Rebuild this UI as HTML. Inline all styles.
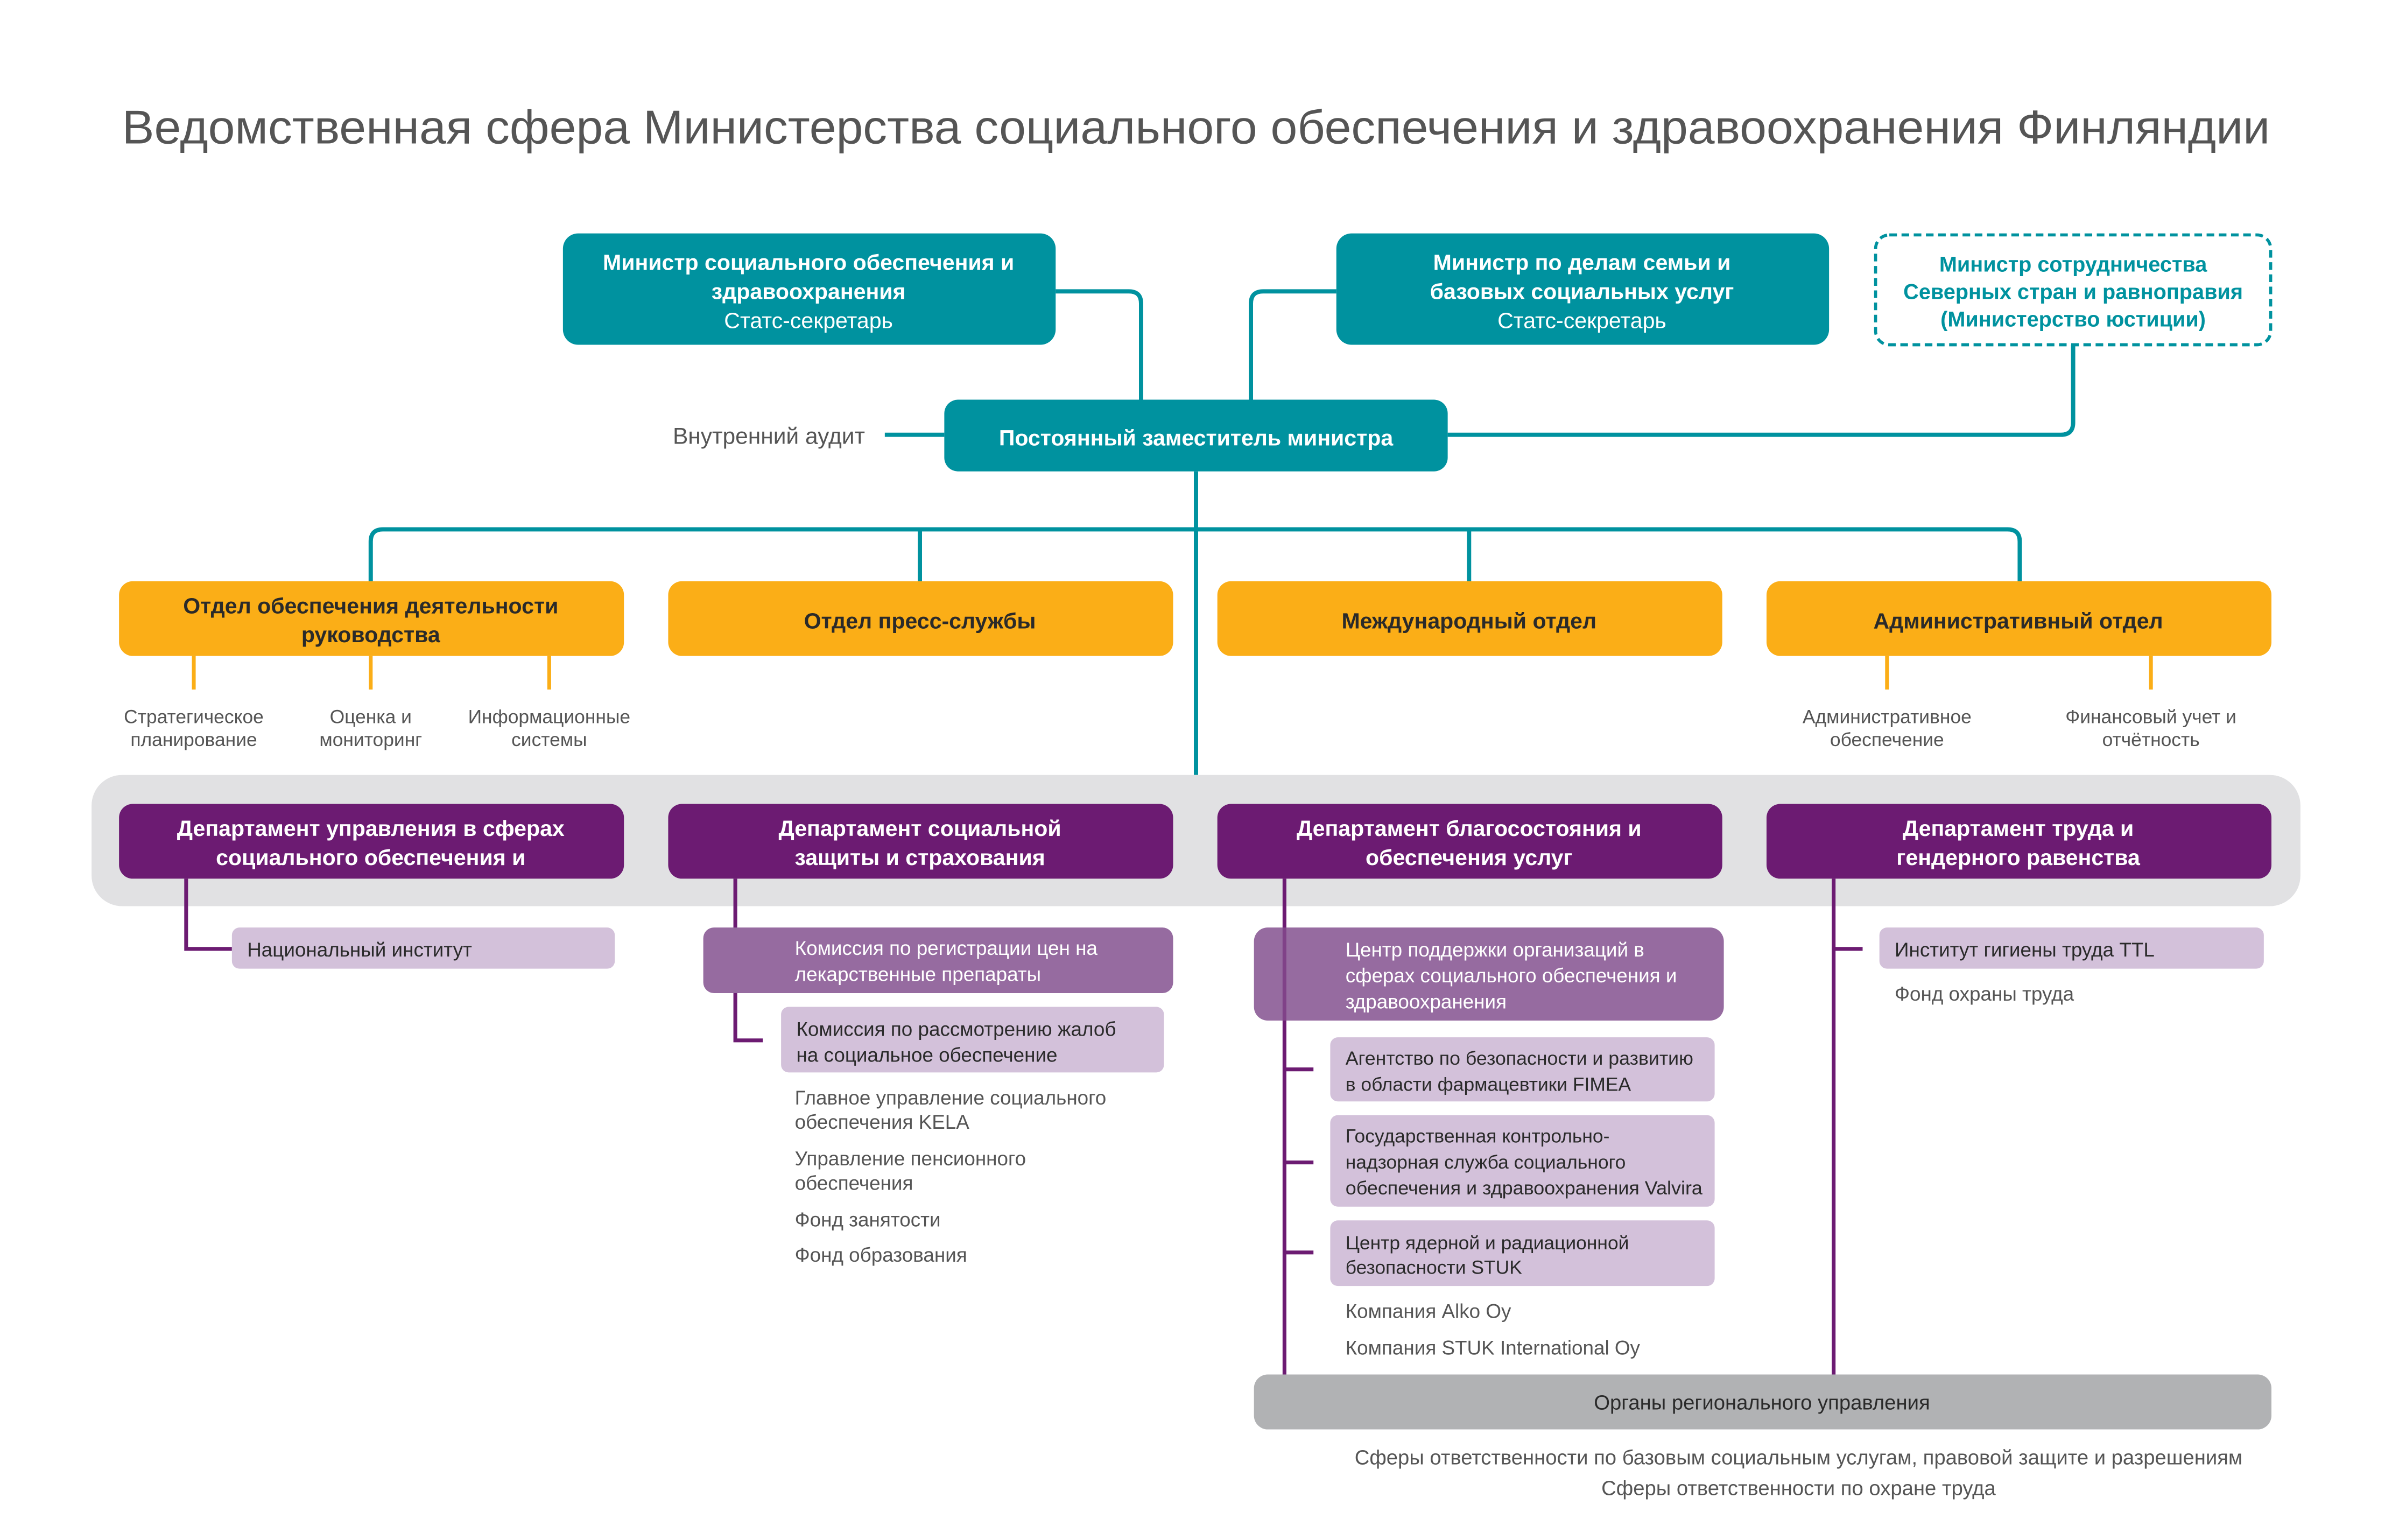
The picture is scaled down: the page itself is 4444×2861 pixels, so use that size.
<!DOCTYPE html>
<html><head><meta charset="utf-8"><style>
html,body{margin:0;padding:0;background:#fff}
svg{display:block}
text{font-family:"Liberation Sans",sans-serif}
.b{font-weight:bold}
.w{fill:#fff}
.g{fill:#555}
.d{fill:#2a2a2a}
</style></head><body>
<svg width="4444" height="2861" viewBox="0 0 1568 1009.5" xmlns="http://www.w3.org/2000/svg">
<rect width="1568" height="1010" fill="#fff"/>
<text x="784" y="94" text-anchor="middle" font-size="31" class="g" textLength="1408" lengthAdjust="spacingAndGlyphs">Ведомственная сфера Министерства социального обеспечения и здравоохранения Финляндии</text>

<!-- teal connectors -->
<g fill="none" stroke="#00929f" stroke-width="2.8">
<path d="M692 191 H740 Q748 191 748 199 V262"/>
<path d="M876 191 H828 Q820 191 820 199 V262"/>
<path d="M1359 226 V277 Q1359 285 1351 285 H949"/>
<path d="M580 285 H619"/>
<path d="M784 309 V508"/>
<path d="M243 381 V355 Q243 347 251 347 H1316 Q1324 347 1324 355 V381"/>
<path d="M603 347 V381 M963 347 V381"/>
</g>

<!-- teal boxes -->
<rect x="369" y="153" width="323" height="73" rx="10" fill="#00929f"/>
<text x="530" y="177" text-anchor="middle" font-size="14.5" class="b w">Министр социального обеспечения и</text>
<text x="530" y="196" text-anchor="middle" font-size="14.5" class="b w">здравоохранения</text>
<text x="530" y="215" text-anchor="middle" font-size="14.5" class="w">Статс-секретарь</text>

<rect x="876" y="153" width="323" height="73" rx="10" fill="#00929f"/>
<text x="1037" y="177" text-anchor="middle" font-size="14.5" class="b w">Министр по делам семьи и</text>
<text x="1037" y="196" text-anchor="middle" font-size="14.5" class="b w">базовых социальных услуг</text>
<text x="1037" y="215" text-anchor="middle" font-size="14.5" class="w">Статс-секретарь</text>

<rect x="1229.5" y="154" width="259" height="72" rx="9" fill="#fff" stroke="#00929f" stroke-width="2" stroke-dasharray="5 3"/>
<g font-size="14" class="b" fill="#00929f" text-anchor="middle">
<text x="1359" y="178">Министр сотрудничества</text>
<text x="1359" y="196">Северных стран и равноправия</text>
<text x="1359" y="214">(Министерство юстиции)</text>
</g>

<rect x="619" y="262" width="330" height="47" rx="9" fill="#00929f"/>
<text x="784" y="292" text-anchor="middle" font-size="14.5" class="b w">Постоянный заместитель министра</text>
<text x="567" y="291" text-anchor="end" font-size="15" class="g">Внутренний аудит</text>

<!-- orange -->
<g stroke="#fbae17" stroke-width="2.5">
<path d="M127 430 V452 M243 430 V452 M360 430 V452 M1237 430 V452 M1410 430 V452"/>
</g>
<g fill="#fbae17">
<rect x="78" y="381" width="331" height="49" rx="9"/>
<rect x="438" y="381" width="331" height="49" rx="9"/>
<rect x="798" y="381" width="331" height="49" rx="9"/>
<rect x="1158" y="381" width="331" height="49" rx="9"/>
</g>
<g font-size="14.5" class="b d" text-anchor="middle">
<text x="243" y="402">Отдел обеспечения деятельности</text>
<text x="243" y="421">руководства</text>
<text x="603" y="412">Отдел пресс-службы</text>
<text x="963" y="412">Международный отдел</text>
<text x="1323" y="412">Административный отдел</text>
</g>
<g font-size="12.5" class="g" text-anchor="middle">
<text x="127" y="474">Стратегическое</text><text x="127" y="489">планирование</text>
<text x="243" y="474">Оценка и</text><text x="243" y="489">мониторинг</text>
<text x="360" y="474">Информационные</text><text x="360" y="489">системы</text>
<text x="1237" y="474">Административное</text><text x="1237" y="489">обеспечение</text>
<text x="1410" y="474">Финансовый учет и</text><text x="1410" y="489">отчётность</text>
</g>

<!-- gray band -->
<rect x="60" y="508" width="1448" height="86" rx="20" fill="#e1e1e3"/>

<!-- purple lines -->
<g fill="none" stroke="#6c1b72" stroke-width="2.5">
<path d="M122 576 V622 H152"/>
<path d="M482 576 V682 H500"/>
<path d="M842 576 V901"/>
<path d="M842 701 H861 M842 762 H861 M842 821 H861"/>
<path d="M1202 576 V901 M1202 622 H1221"/>
</g>

<g fill="#6c1b72">
<rect x="78" y="527" width="331" height="49" rx="9"/>
<rect x="438" y="527" width="331" height="49" rx="9"/>
<rect x="798" y="527" width="331" height="49" rx="9"/>
<rect x="1158" y="527" width="331" height="49" rx="9"/>
</g>
<g font-size="14.5" class="b w" text-anchor="middle">
<text x="243" y="548">Департамент управления в сферах</text>
<text x="243" y="567">социального обеспечения и</text>
<text x="603" y="548">Департамент социальной</text>
<text x="603" y="567">защиты и страхования</text>
<text x="963" y="548">Департамент благосостояния и</text>
<text x="963" y="567">обеспечения услуг</text>
<text x="1323" y="548">Департамент труда и</text>
<text x="1323" y="567">гендерного равенства</text>
</g>

<!-- sub boxes -->
<rect x="152" y="608" width="251" height="27" rx="5" fill="#d3c1da"/>
<text x="162" y="627" font-size="13" class="d">Национальный институт</text>

<rect x="461" y="608" width="308" height="43" rx="7" fill="#966ba0"/>
<text x="521" y="626" font-size="13" class="w">Комиссия по регистрации цен на</text>
<text x="521" y="643" font-size="13" class="w">лекарственные препараты</text>
<rect x="512" y="660" width="251" height="43" rx="5" fill="#d3c1da"/>
<text x="522" y="679" font-size="13" class="d">Комиссия по рассмотрению жалоб</text>
<text x="522" y="696" font-size="13" class="d">на социальное обеспечение</text>
<g font-size="13" class="g">
<text x="521" y="724">Главное управление социального</text>
<text x="521" y="740">обеспечения KELA</text>
<text x="521" y="764">Управление пенсионного</text>
<text x="521" y="780">обеспечения</text>
<text x="521" y="804">Фонд занятости</text>
<text x="521" y="827">Фонд образования</text>
</g>

<rect x="822" y="608" width="308" height="61" rx="9" fill="#966ba0"/>
<line x1="842" y1="608" x2="842" y2="669" stroke="#6c1b72" stroke-width="2.5" opacity="0.5"/>
<text x="882" y="627" font-size="13" class="w">Центр поддержки организаций в</text>
<text x="882" y="644" font-size="13" class="w">сферах социального обеспечения и</text>
<text x="882" y="661" font-size="13" class="w">здравоохранения</text>

<rect x="872" y="680" width="252" height="42" rx="5" fill="#d3c1da"/>
<text x="882" y="698" font-size="12.5" class="d" textLength="228" lengthAdjust="spacingAndGlyphs">Агентство по безопасности и развитию</text>
<text x="882" y="715" font-size="12.5" class="d">в области фармацевтики FIMEA</text>
<rect x="872" y="731" width="252" height="60" rx="5" fill="#d3c1da"/>
<text x="882" y="749" font-size="12.5" class="d">Государственная контрольно-</text>
<text x="882" y="766" font-size="12.5" class="d">надзорная служба социального</text>
<text x="882" y="783" font-size="12.5" class="d" textLength="234" lengthAdjust="spacingAndGlyphs">обеспечения и здравоохранения Valvira</text>
<rect x="872" y="800" width="252" height="43" rx="5" fill="#d3c1da"/>
<text x="882" y="819" font-size="12.5" class="d">Центр ядерной и радиационной</text>
<text x="882" y="835" font-size="12.5" class="d">безопасности STUK</text>
<text x="882" y="864" font-size="13" class="g">Компания Alko Oy</text>
<text x="882" y="888" font-size="13" class="g">Компания STUK International Oy</text>

<rect x="1232" y="608" width="252" height="27" rx="5" fill="#d3c1da"/>
<text x="1242" y="627" font-size="13" class="d">Институт гигиены труда TTL</text>
<text x="1242" y="656" font-size="13" class="g">Фонд охраны труда</text>

<rect x="822" y="901" width="667" height="36" rx="9" fill="#b1b2b4"/>
<text x="1155" y="924" text-anchor="middle" font-size="13.5" class="d">Органы регионального управления</text>

<text x="1179" y="960" text-anchor="middle" font-size="13.5" class="g" textLength="582" lengthAdjust="spacingAndGlyphs">Сферы ответственности по базовым социальным услугам, правовой защите и разрешениям</text>
<text x="1179" y="980" text-anchor="middle" font-size="13.5" class="g">Сферы ответственности по охране труда</text>
</svg>
</body></html>
